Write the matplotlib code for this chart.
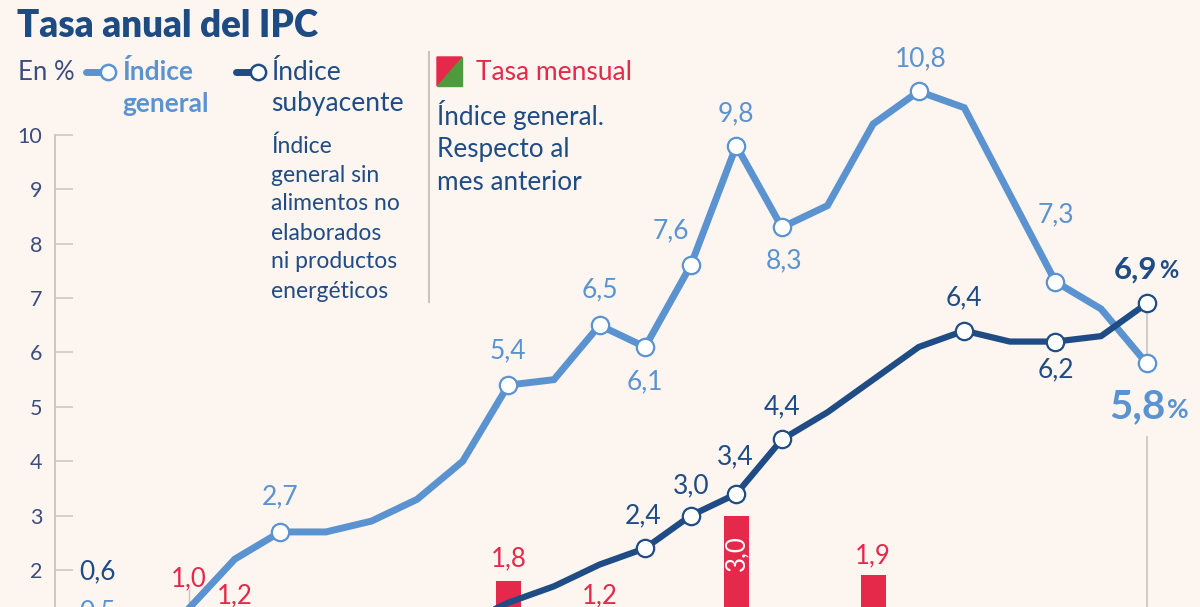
import matplotlib.pyplot as plt
from matplotlib.patches import Polygon

plt.rcParams['font.family'] = ['Lato', 'DejaVu Sans']

# Ene 2021 .. Dic 2022
months = list(range(24))
general = [0.5, 0.0, 1.3, 2.2, 2.7, 2.7, 2.9, 3.3, 4.0, 5.4, 5.5, 6.5,
           6.1, 7.6, 9.8, 8.3, 8.7, 10.2, 10.8, 10.5, 8.9, 7.3, 6.8, 5.8]
core = [0.6, 0.3, 0.3, 0.0, 0.2, 0.2, 0.6, 0.7, 1.0, 1.4, 1.7, 2.1,
        2.4, 3.0, 3.4, 4.4, 4.9, 5.5, 6.1, 6.4, 6.2, 6.2, 6.3, 6.9]
monthly = [-0.6, -0.6, 1.0, 1.2, 0.1, 0.5, -0.8, 0.5, 0.8, 1.8, 0.3, 1.2,
           -1.1, 0.8, 3.0, -0.2, 0.8, 1.9, -0.3, 0.3, -0.3, 0.3, -0.1, 0.2]
yticks = [2, 3, 4, 5, 6, 7, 8, 9, 10]

# which points carry a marker / label, and where the label goes (pixels)
gen_marks = [0, 4, 9, 11, 12, 13, 14, 15, 18, 21, 23]
gen_lab = {0: (0, 40), 4: (0, 35), 9: (0, 34), 11: (0, 35), 12: (0, -35),
           13: (-20, 35), 14: (0, 32), 15: (2, -33), 18: (2, 33), 21: (0, 67)}
core_marks = [0, 12, 13, 14, 15, 19, 21, 23]
core_lab = {0: (0, 74), 12: (-2, 32), 13: (0, 30), 14: (-1, 37), 15: (0, 33),
            19: (0, 33), 21: (0, -28)}
bar_lab = {2: 46, 3: 18, 9: 22, 11: 18, 17: 20}

BG = '#fdf5ef'
LIGHT = '#5b93d1'
DARK = '#1f4c84'
RED = '#e4294a'
GREEN = '#4e9a3c'
GRAY = '#cbc3bf'
TICK = '#3c4c7c'

fig = plt.figure(figsize=(12, 6.07), dpi=100, facecolor=BG)
ax = fig.add_axes([55 / 1200, 0, 1 - 55 / 1200, 1])
ax.set_facecolor(BG)
ax.set_xlim(-0.943, 24.17)
ax.set_ylim(1.32, 12.48)
for s in ['top', 'right', 'bottom']:
    ax.spines[s].set_visible(False)
ax.spines['left'].set_color(GRAY)
ax.spines['left'].set_linewidth(1.3)
ax.spines['left'].set_bounds(1.32, 10)
ax.set_xticks([])
ax.set_yticks(yticks)
ax.set_yticklabels([str(t) for t in yticks])
ax.tick_params(axis='y', direction='in', length=13, width=1.1, color=GRAY,
               labelcolor=TICK, labelsize=15.5, pad=9)


def fmt(v):
    return '{:.1f}'.format(v).replace('.', ',')


# monthly bars
cols = [RED if v >= 0 else GREEN for v in monthly]
ax.bar(months, monthly, width=0.55, color=cols, zorder=2)
for i, dy in bar_lab.items():
    ax.annotate(fmt(monthly[i]), (i, monthly[i]), xytext=(0, dy),
                textcoords='offset pixels', ha='center', va='center',
                color=RED, fontsize=18.5, zorder=3, annotation_clip=False)
ax.plot([2, 2], [monthly[2], 1.63], color=GRAY, lw=1, zorder=1)
ax.annotate(fmt(monthly[14]), (14, monthly[14]), xytext=(0, -38),
            textcoords='offset pixels', ha='center', va='center', rotation=90,
            color='white', fontsize=18.5, zorder=3)

# vertical guide at last month
ax.plot([23, 23], [core[-1], general[-1]], color=GRAY, lw=1.2, zorder=1)
ax.plot([23, 23], [1.32, 4.45], color=GRAY, lw=1.2, zorder=1)

# lines
ax.plot(months, general, color=LIGHT, lw=5, solid_joinstyle='miter', zorder=4)
ax.plot([months[i] for i in gen_marks], [general[i] for i in gen_marks], 'o',
        ms=12.5, mfc='white', mec=LIGHT, mew=1.6, zorder=5)
ax.plot(months, core, color=DARK, lw=4.5, solid_joinstyle='miter', zorder=6)
ax.plot([months[i] for i in core_marks], [core[i] for i in core_marks], 'o',
        ms=12.5, mfc='white', mec=DARK, mew=1.6, zorder=7)

for i, (dx, dy) in gen_lab.items():
    ax.annotate(fmt(general[i]), (i, general[i]), xytext=(dx, dy),
                textcoords='offset pixels', ha='center', va='center',
                color=LIGHT, fontsize=19, zorder=8, annotation_clip=False)
for i, (dx, dy) in core_lab.items():
    ax.annotate(fmt(core[i]), (i, core[i]), xytext=(dx, dy),
                textcoords='offset pixels', ha='center', va='center',
                color=DARK, fontsize=19, zorder=8, annotation_clip=False)

# final values
ax.annotate(fmt(core[-1]), (23, core[-1]), xytext=(11, 25),
            textcoords='offset pixels', ha='right', va='baseline', color=DARK,
            fontsize=22.5, fontweight='bold')
ax.annotate('%', (23, core[-1]), xytext=(12, 25), textcoords='offset pixels',
            ha='left', va='baseline', color=DARK, fontsize=17, fontweight='bold')
ax.annotate(fmt(general[-1]), (23, general[-1]), xytext=(19, -55),
            textcoords='offset pixels', ha='right', va='baseline', color=LIGHT,
            fontsize=29, fontweight='bold')
ax.annotate('%', (23, general[-1]), xytext=(20, -55), textcoords='offset pixels',
            ha='left', va='baseline', color=LIGHT, fontsize=19, fontweight='bold')

# header / legend in pixel space
lg = fig.add_axes([0, 0, 1, 1], facecolor='none')
lg.set_xlim(0, 1200)
lg.set_ylim(607, 0)
lg.axis('off')

lg.text(17, 26, 'Tasa anual del IPC', ha='left', va='center', color='#1d4b82',
        fontsize=26.5, fontweight='heavy')
lg.text(18, 72, 'En %', ha='left', va='center', color=TICK, fontsize=18.5)

lg.plot([86, 104], [72, 72], color=LIGHT, lw=5, solid_capstyle='round')
lg.plot([108], [72], 'o', ms=11, mfc='white', mec=LIGHT, mew=1.8)
lg.text(122, 72, 'Índice', ha='left', va='center', color=LIGHT, fontsize=19,
        fontweight='bold')
lg.text(122, 104, 'general', ha='left', va='center', color=LIGHT, fontsize=19,
        fontweight='bold')

lg.plot([236, 254], [72, 72], color=DARK, lw=5, solid_capstyle='round')
lg.plot([258], [72], 'o', ms=11, mfc='white', mec=DARK, mew=1.8)
lg.text(271, 72, 'Índice', ha='left', va='center', color=DARK, fontsize=19)
lg.text(271, 104, 'subyacente', ha='left', va='center', color=DARK, fontsize=19)
desc = ['Índice', 'general sin', 'alimentos no', 'elaborados', 'ni productos',
        'energéticos']
for k, line in enumerate(desc):
    lg.text(271, 146 + 29 * k, line, ha='left', va='center', color=DARK,
            fontsize=16.5)

lg.plot([429, 429], [52, 302], color=GRAY, lw=1.5)
lg.add_patch(Polygon([(437, 57), (462, 57), (437, 86)], closed=True, color=RED))
lg.add_patch(Polygon([(462, 57), (462, 86), (437, 86)], closed=True, color=GREEN))
lg.text(476, 72, 'Tasa mensual', ha='left', va='center', color=RED, fontsize=19)
for k, line in enumerate(['Índice general.', 'Respecto al', 'mes anterior']):
    lg.text(437, 115 + 34 * k, line, ha='left', va='center', color=DARK,
            fontsize=18.8)

plt.savefig('out.png', dpi=100, facecolor=BG)
